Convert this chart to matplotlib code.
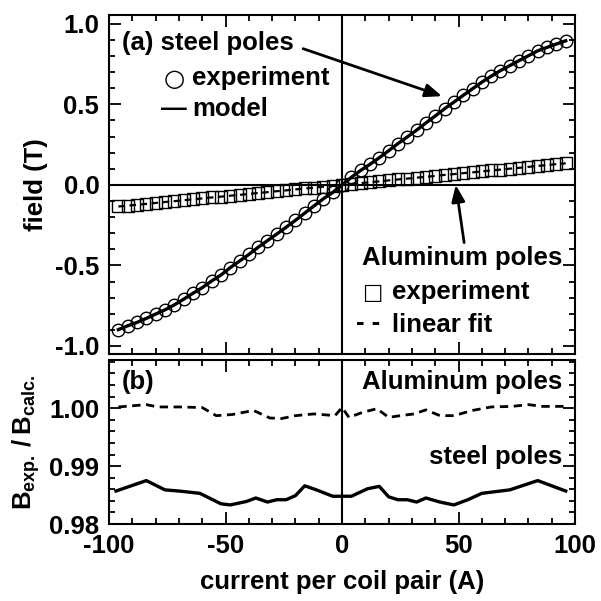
import matplotlib
matplotlib.use("Agg")
import matplotlib.pyplot as plt
from matplotlib.ticker import MultipleLocator, FormatStrFormatter

plt.rcParams['font.family'] = ['Liberation Sans', 'DejaVu Sans']
plt.rcParams['font.weight'] = 'bold'
plt.rcParams['axes.unicode_minus'] = False
plt.rcParams['mathtext.fontset'] = 'custom'
plt.rcParams['mathtext.bf'] = 'Liberation Sans:bold'
plt.rcParams['mathtext.rm'] = 'Liberation Sans:bold'
plt.rcParams['mathtext.default'] = 'bf'

# current per coil pair (A), 4 A steps
current = [-96, -92, -88, -84, -80, -76, -72, -68, -64, -60, -56, -52, -48,
           -44, -40, -36, -32, -28, -24, -20, -16, -12, -8, -4, 0,
           4, 8, 12, 16, 20, 24, 28, 32, 36, 40, 44, 48,
           52, 56, 60, 64, 68, 72, 76, 80, 84, 88, 92, 96]

# steel poles, measured field (T)
steel_field = [-0.899, -0.875, -0.854, -0.829, -0.802, -0.776, -0.745, -0.710,
               -0.673, -0.638, -0.597, -0.560, -0.514, -0.473, -0.432, -0.387,
               -0.346, -0.305, -0.263, -0.220, -0.175, -0.130, -0.086, -0.047,
               0.000,
               0.047, 0.090, 0.128, 0.169, 0.212, 0.257, 0.298, 0.340,
               0.385, 0.428, 0.473, 0.514, 0.556, 0.597, 0.638, 0.675,
               0.710, 0.741, 0.772, 0.802, 0.833, 0.854, 0.875, 0.895]

# aluminum poles, measured field (T)
alu_field = [-0.134, -0.129, -0.123, -0.118, -0.112, -0.106, -0.101, -0.095,
             -0.090, -0.084, -0.078, -0.073, -0.067, -0.062, -0.056, -0.050,
             -0.045, -0.039, -0.034, -0.028, -0.022, -0.017, -0.011, -0.006,
             0.000,
             0.006, 0.011, 0.017, 0.022, 0.028, 0.034, 0.039, 0.045,
             0.050, 0.056, 0.062, 0.067, 0.073, 0.078, 0.084, 0.090,
             0.095, 0.101, 0.106, 0.112, 0.118, 0.123, 0.129, 0.134]

# ratio B_exp / B_calc
alu_ratio_x = [-96, -84, -79, -70, -60, -54, -47, -38, -31, -26, -20, -12, -3, 0,
               3, 9, 15, 20, 25, 31, 36, 42, 48, 56, 64, 73, 80, 86, 96]
alu_ratio = [1.0002, 1.0006, 1.0002, 1.0002, 1.0001, 0.9987, 0.9989, 0.9996,
             0.9983, 0.9982, 0.9987, 0.9990, 0.9987, 1.0001,
             0.9984, 0.9993, 0.9999, 0.9984, 0.9987, 0.9990, 0.9997, 0.9987,
             0.9987, 0.9996, 1.0002, 1.0003, 1.0006, 1.0003, 1.0003]

steel_ratio_x = [-97, -84, -76, -70, -61, -52, -48, -41, -37, -32, -28, -24, -20,
                 -16, -11, -4, 4, 11, 16, 20, 24, 28, 32, 36, 42, 48, 54, 60,
                 72, 84, 96]
steel_ratio = [0.9857, 0.9875, 0.9859, 0.9857, 0.9853, 0.9835, 0.9833, 0.9839,
               0.9845, 0.9838, 0.9842, 0.9842, 0.9849, 0.9866, 0.9859, 0.9848,
               0.9848, 0.9861, 0.9865, 0.9847, 0.9842, 0.9842, 0.9838, 0.9845,
               0.9838, 0.9833, 0.9842, 0.9853, 0.9859, 0.9875, 0.9857]

FS = 18.5

fig = plt.figure(figsize=(6.01, 6.01), dpi=100)
ax1 = fig.add_axes([0.1814, 0.411, 0.7754, 0.564])
ax2 = fig.add_axes([0.1814, 0.128, 0.7754, 0.273])


def style(ax):
    for s in ax.spines.values():
        s.set_linewidth(1.5)
    ax.tick_params(which='both', direction='in', top=True, right=True,
                   width=1.3, labelsize=FS)
    ax.tick_params(which='major', length=8.5, pad=7)
    ax.tick_params(which='minor', length=4.5)
    ax.set_xlim(-100, 100)
    ax.xaxis.set_major_locator(MultipleLocator(50))
    ax.xaxis.set_minor_locator(MultipleLocator(10))
    ax.axvline(0, color='black', lw=1.5, zorder=1)


# (a) field vs current
style(ax1)
ax1.axhline(0, color='black', lw=1.5, zorder=1)
ax1.plot(current, steel_field, '-', color='black', lw=2.4, zorder=3)
ax1.plot(current, steel_field, 'o', mfc='none', mec='black', mew=1.0,
         ms=9, zorder=2)
ax1.plot(current, alu_field, 's', mfc='none', mec='black', mew=1.0,
         ms=8.5, zorder=2)
ax1.plot(current, alu_field, '--', color='black', lw=1.6,
         dashes=(3, 2), zorder=3)
ax1.set_ylim(-1.05, 1.055)
ax1.yaxis.set_major_locator(MultipleLocator(0.5))
ax1.yaxis.set_minor_locator(MultipleLocator(0.1))
ax1.yaxis.set_major_formatter(FormatStrFormatter('%.1f'))
ax1.tick_params(labelbottom=False)
ax1.set_ylabel('field (T)', fontsize=FS, fontweight='bold', labelpad=5)

tf = dict(transform=ax1.transAxes, fontsize=FS, fontweight='bold', va='center')
sym = dict(transform=ax1.transAxes, va='center', ha='center',
           family=['DejaVu Sans'])
ax1.text(0.028, 0.917, '(a) steel poles', ha='left', **tf)
ax1.text(0.139, 0.812, '\u25cb', fontsize=FS - 1, **sym)
ax1.text(0.178, 0.814, 'experiment', ha='left', **tf)
ax1.text(0.139, 0.722, '\u2014', ha='center', **tf)
ax1.text(0.178, 0.722, 'model', ha='left', **tf)
ax1.text(0.972, 0.283, 'Aluminum poles', ha='right', **tf)
ax1.text(0.564, 0.181, '\u25a1', fontsize=FS - 3, **sym)
ax1.text(0.607, 0.183, 'experiment', ha='left', **tf)
ax1.text(0.556, 0.090, '- -', ha='center', **tf)
ax1.text(0.607, 0.086, 'linear fit', ha='left', **tf)

arrow = dict(arrowstyle='-|>,head_length=1.0,head_width=0.4',
             color='black', lw=2.0, shrinkA=0, shrinkB=0)
ax1.annotate('', xy=(42.9, 0.551), xytext=(-16.7, 0.846), arrowprops=arrow)
ax1.annotate('', xy=(48.8, 0.0), xytext=(52.4, -0.358), arrowprops=arrow)

# (b) ratio
style(ax2)
ax2.plot(alu_ratio_x, alu_ratio, '--', color='black', lw=2.0, dashes=(3, 2))
ax2.plot(steel_ratio_x, steel_ratio, '-', color='black', lw=2.4)
ax2.set_ylim(0.98, 1.0083)
ax2.yaxis.set_major_locator(MultipleLocator(0.01))
ax2.yaxis.set_minor_locator(MultipleLocator(0.002))
ax2.yaxis.set_major_formatter(FormatStrFormatter('%.2f'))
ax2.set_xticks([-100, -50, 0, 50, 100])
ax2.set_xlabel('current per coil pair (A)', fontsize=FS, fontweight='bold',
               labelpad=9)
ax2.set_ylabel(r'$B_{exp.}\,/\,B_{calc.}$', fontsize=FS, fontweight='bold',
               labelpad=5)

tf2 = dict(transform=ax2.transAxes, fontsize=FS, fontweight='bold', va='center')
ax2.text(0.028, 0.866, '(b)', ha='left', **tf2)
ax2.text(0.972, 0.866, 'Aluminum poles', ha='right', **tf2)
ax2.text(0.972, 0.409, 'steel poles', ha='right', **tf2)

fig.savefig('out.png', dpi=100)
